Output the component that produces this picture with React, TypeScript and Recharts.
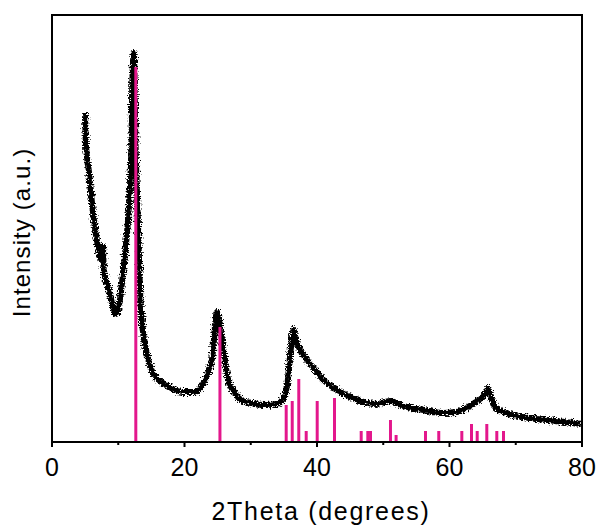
import React from 'react';
import { ComposedChart, Line, XAxis, YAxis, Label, ReferenceArea } from 'recharts';

// XRD pattern, black measured curve (2theta in degrees, intensity in arbitrary units)
const CURVE_X = [
  5.0, 5.1, 5.6, 6.1, 6.6, 7.1, 7.5, 7.7, 7.8, 8.6, 9.1, 9.6, 10.0, 10.4, 10.9, 11.2, 11.6,
  12.0, 12.1, 12.35, 12.6, 12.9, 13.4, 13.7, 14.2, 14.7, 15.5, 16.5, 17.2, 19.7, 21.5, 22.5, 23.5,
  24.2, 24.9, 25.2, 25.6, 26.0, 26.6, 27.5, 28.5, 30, 32, 34, 35.0, 35.6, 36.0, 36.45, 36.9,
  37.5, 38.5, 39.5, 41, 43, 45, 47, 49, 51, 53, 56, 59, 61, 62.5, 64, 65.3, 65.8, 66.3, 67,
  69, 72, 76, 80,
];
const CURVE_I = [
  329, 300, 269, 235, 209, 190, 182, 196, 172, 152, 138, 128, 132, 150, 180, 200, 235,
  300, 352, 389, 300, 234, 135, 112, 92, 78, 66, 60, 57, 50, 50, 55, 68,
  85, 130, 122, 105, 85, 62, 50, 42, 39, 37, 38, 45, 62, 90, 112, 100,
  92, 82, 74, 62, 52, 45, 40, 38, 41, 36, 32, 29, 30, 34, 40, 47, 53, 44, 34,
  28, 24, 21, 18,
];

// reference pattern sticks (magenta)
const STICK_X = [
  12.65, 25.35, 35.35, 36.26, 37.25, 38.37, 40.03, 42.64, 46.67, 47.67, 48.08, 51.09, 51.94,
  56.38, 58.38, 61.86, 63.32, 64.18, 65.63, 67.14, 68.15,
];
const STICK_I = [
  375, 115, 37, 41, 63, 11, 41, 44, 11, 11, 11, 22, 7,
  11, 11, 11, 18, 11, 18, 11, 11,
];

const X_TICKS = [0, 10, 20, 30, 40, 50, 60, 70, 80];

const FONT = 'Liberation Sans, Arial, sans-serif';
const PINK = '#e3178c';

const curveData = CURVE_X.map((x, i) => ({ x, v: CURVE_I[i] }));
const sticks = STICK_X.map((x, i) => [
  { x, v: 0 },
  { x, v: STICK_I[i] },
]);

const XTick = (props: any) => {
  const { x, y, payload } = props;
  const major = payload.value % 20 === 0;
  return (
    <g>
      <line x1={x} x2={x} y1={y} y2={y + (major ? 5 : 3)} stroke="#000" strokeWidth={2} />
      {major && (
        <text x={x} y={y + 34} textAnchor="middle" fontSize={25} fontFamily={FONT} fill="#000">
          {payload.value}
        </text>
      )}
    </g>
  );
};

export default function App() {
  return (
    <div style={{ position: 'absolute', left: 0, top: 0, background: '#fff' }}>
      <ComposedChart
        width={601}
        height={528}
        margin={{ top: 15, right: 19, bottom: 0, left: 0 }}
      >
        <defs>
          {/* rough edges to look like the noisy detector trace */}
          <filter id="noisy" filterUnits="userSpaceOnUse" x="0" y="0" width="601" height="528">
            <feTurbulence type="fractalNoise" baseFrequency="0.6 0.9" numOctaves="1" seed="3" result="t" />
            <feDisplacementMap in="SourceGraphic" in2="t" scale="8" xChannelSelector="R" yChannelSelector="G" />
          </filter>
        </defs>
        <XAxis
          dataKey="x"
          type="number"
          domain={[0, 80]}
          ticks={X_TICKS}
          interval={0}
          tick={<XTick />}
          tickLine={false}
          tickSize={0}
          tickMargin={0}
          height={86}
          axisLine={{ stroke: '#000', strokeWidth: 2 }}
          allowDataOverflow
        >
          <Label
            content={({ viewBox }: any) => (
              <text
                x={viewBox.x + viewBox.width / 2 + 4}
                y={viewBox.y + 78}
                textAnchor="middle"
                fontSize={25}
                letterSpacing={1.7}
                fontFamily={FONT}
                fill="#000"
              >
                2Theta (degrees)
              </text>
            )}
          />
        </XAxis>
        <YAxis
          type="number"
          domain={[0, 427]}
          width={52}
          tick={false}
          tickLine={false}
          axisLine={{ stroke: '#000', strokeWidth: 2 }}
          allowDataOverflow
        >
          <Label
            content={({ viewBox }: any) => (
              <text
                transform={`translate(30, ${viewBox.y + viewBox.height / 2 + 4}) rotate(-90)`}
                textAnchor="middle"
                fontSize={24}
                letterSpacing={1.1}
                fontFamily={FONT}
                fill="#000"
              >
                Intensity (a.u.)
              </text>
            )}
          />
        </YAxis>

        <ReferenceArea
          x1={0}
          x2={80}
          y1={0}
          y2={427}
          fill="none"
          fillOpacity={0}
          stroke="#000"
          strokeWidth={2}
          ifOverflow="visible"
        />

        <Line
          data={curveData}
          dataKey="v"
          type="monotone"
          stroke="#000"
          strokeWidth={6}
          filter="url(#noisy)"
          dot={false}
          activeDot={false}
          isAnimationActive={false}
        />
        {sticks.map((d, i) => (
          <Line
            key={i}
            data={d}
            dataKey="v"
            type="linear"
            stroke={PINK}
            strokeWidth={3}
            dot={false}
            activeDot={false}
            isAnimationActive={false}
          />
        ))}
      </ComposedChart>
    </div>
  );
}
